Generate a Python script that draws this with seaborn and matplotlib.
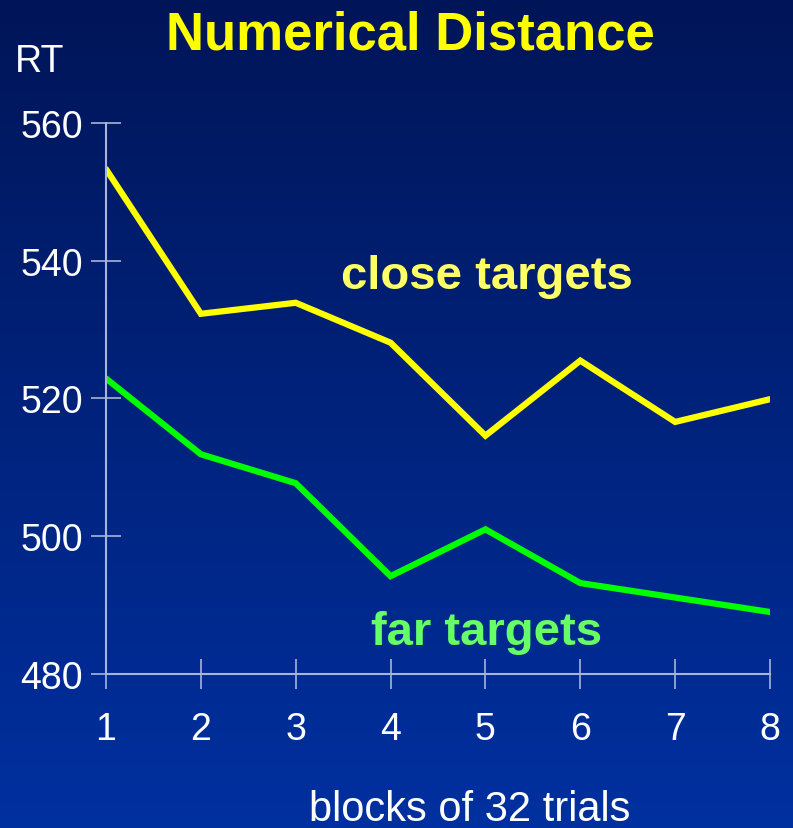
import numpy as np
import pandas as pd
import matplotlib.pyplot as plt
import seaborn as sns
from matplotlib.colors import LinearSegmentedColormap

blocks = [1, 2, 3, 4, 5, 6, 7, 8]
close_rt = [553.3, 532.3, 533.9, 528.1, 514.6, 525.5, 516.6, 519.9]
far_rt = [522.9, 511.9, 507.7, 494.2, 501.0, 493.2, 491.1, 489.0]
y_ticks = [480, 500, 520, 540, 560]

df = pd.DataFrame({
    "block": blocks * 2,
    "rt": close_rt + far_rt,
    "target": ["close"] * 8 + ["far"] * 8,
})

sns.set_style("dark")
plt.rcParams["font.family"] = ["Liberation Sans", "DejaVu Sans"]

fig = plt.figure(figsize=(7.93, 8.29), dpi=100)

# background gradient
bg = fig.add_axes([0, 0, 1, 1])
bg_cmap = LinearSegmentedColormap.from_list("bg", ["#001558", "#0030A0"])
bg.imshow(np.linspace(0, 1, 256).reshape(-1, 1), aspect="auto", cmap=bg_cmap,
          extent=[0, 1, 0, 1])
bg.set_axis_off()

ax = fig.add_axes([0.1337, 0.1858, 0.8373, 0.6646])
ax.patch.set_alpha(0)
sns.lineplot(data=df, x="block", y="rt", hue="target",
             palette={"close": "#FFFF00", "far": "#00FF00"},
             linewidth=4.5, legend=False, ax=ax,
             solid_capstyle="round", solid_joinstyle="miter")

ax.set_xlim(1, 8)
ax.set_ylim(480, 560)
ax.set_xticks(blocks)
ax.set_yticks(y_ticks)
ax.set_xticklabels([str(b) for b in blocks], fontsize=27, color="white")
ax.set_yticklabels([str(t) for t in y_ticks], fontsize=27, color="white")
ax.tick_params(axis="both", direction="inout", length=21, width=1.2,
               color="#A8B4D8", bottom=True, left=True)
ax.tick_params(axis="x", pad=16)
ax.tick_params(axis="y", pad=6)
ax.grid(False)
for side in ["top", "right"]:
    ax.spines[side].set_visible(False)
for side in ["left", "bottom"]:
    ax.spines[side].set_color("#A8B4D8")
    ax.spines[side].set_linewidth(1.5)
ax.set_xlabel("")
ax.set_ylabel("")

ax.text(5.02, 536.1, "close targets", ha="center", va="baseline",
        fontsize=34, fontweight="bold", color="#FFFF66")
ax.text(5.01, 484.3, "far targets", ha="center", va="baseline",
        fontsize=34, fontweight="bold", color="#66FF66")

fig.text(0.517, 1 - 50 / 829, "Numerical Distance", ha="center", va="baseline",
         fontsize=38, fontweight="bold", color="#FFFF00")
fig.text(0.05, 1 - 72 / 829, "RT", ha="center", va="baseline",
         fontsize=27, color="white")
fig.text(0.592, 1 - 821 / 829, "blocks of 32 trials", ha="center", va="baseline",
         fontsize=30, color="white")

fig.savefig("out.png", dpi=100)
